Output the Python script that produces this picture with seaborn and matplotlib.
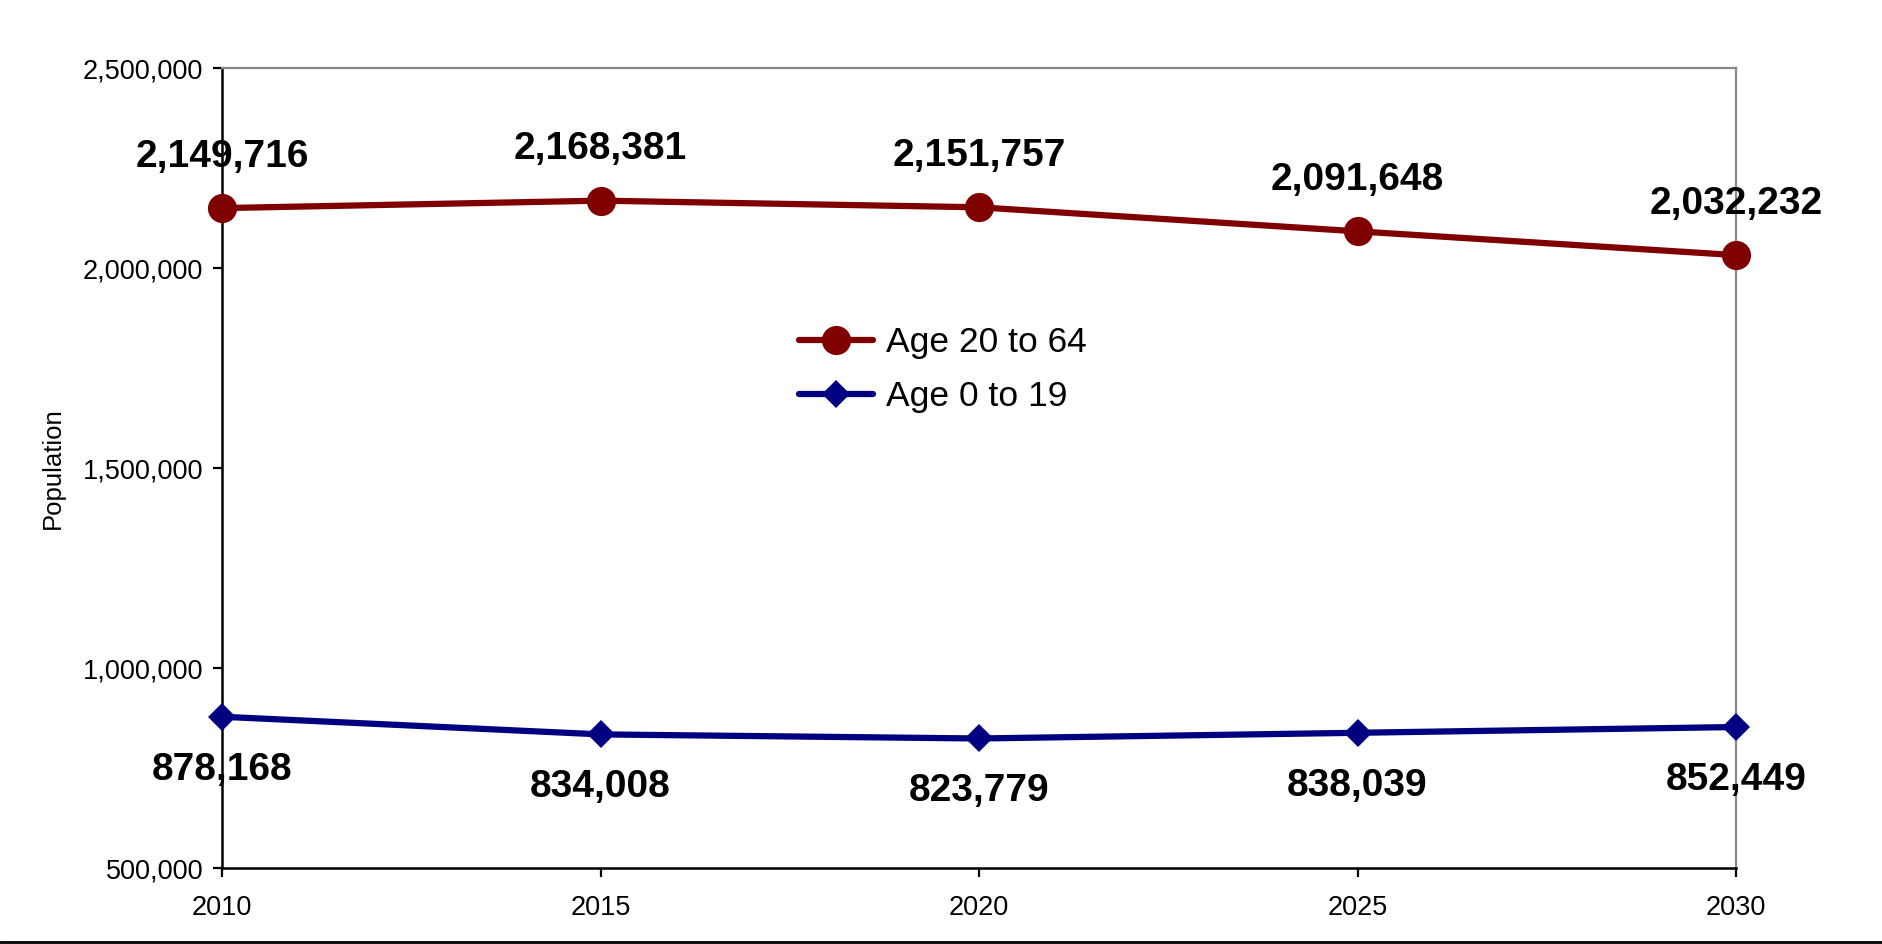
import matplotlib
matplotlib.use("Agg")
import matplotlib.pyplot as plt
from matplotlib.lines import Line2D
from matplotlib.ticker import FuncFormatter
import seaborn as sns
import pandas as pd

years = [2010, 2015, 2020, 2025, 2030]
age_20_64 = [2149716, 2168381, 2151757, 2091648, 2032232]
age_0_19 = [878168, 834008, 823779, 838039, 852449]
series_names = ["Age 20 to 64", "Age 0 to 19"]
y_ticks = [500000, 1000000, 1500000, 2000000, 2500000]

sns.set_style("white")
plt.rcParams["font.family"] = ["Liberation Sans", "DejaVu Sans"]
plt.rcParams["text.color"] = "black"

fig = plt.figure(figsize=(18.83, 9.44), dpi=100)
ax = fig.add_axes([222 / 1883, 1 - 868 / 944, (1736 - 222) / 1883, (868 - 68) / 944])

df_red = pd.DataFrame({"year": years, "pop": age_20_64})
df_blue = pd.DataFrame({"year": years, "pop": age_0_19})

sns.lineplot(data=df_red, x="year", y="pop", ax=ax, color="#800000", lw=4.5,
             marker="o", markersize=21, markeredgewidth=0, label=series_names[0],
             clip_on=False, zorder=5)
sns.lineplot(data=df_blue, x="year", y="pop", ax=ax, color="#000080", lw=4.5,
             marker="D", markersize=14.5, markeredgewidth=0, label=series_names[1],
             clip_on=False, zorder=5)

for x, v in zip(years, age_20_64):
    ax.annotate(f"{v:,}", (x, v), xytext=(0, 37), textcoords="offset points",
                ha="center", va="center", fontsize=28, fontweight="bold", color="black",
                zorder=6)
for x, v in zip(years, age_0_19):
    ax.annotate(f"{v:,}", (x, v), xytext=(0, -38), textcoords="offset points",
                ha="center", va="center", fontsize=28, fontweight="bold", color="black",
                zorder=6)

ax.set_xlim(2010, 2030)
ax.set_ylim(500000, 2500000)
ax.set_xticks(years)
ax.set_yticks(y_ticks)
ax.yaxis.set_major_formatter(FuncFormatter(lambda v, p: f"{int(v):,}"))
ax.tick_params(axis="both", which="major", labelsize=19.5, length=6.5, width=1.6,
               color="black", labelcolor="black", direction="out")
ax.tick_params(axis="y", pad=7, left=True)
ax.tick_params(axis="x", pad=13, bottom=True)
ax.set_xlabel("")
ax.set_ylabel("Population", fontsize=18.5, labelpad=13, color="black")

for s in ["left", "bottom"]:
    ax.spines[s].set_color("black")
    ax.spines[s].set_linewidth(1.8)
for s in ["top", "right"]:
    ax.spines[s].set_color("#888888")
    ax.spines[s].set_linewidth(1.6)
    ax.spines[s].set_visible(True)

leg = ax.legend(loc="center left", bbox_to_anchor=(0.381, 0.623), frameon=False,
                fontsize=25.5, handlelength=2.1, handletextpad=0.35, labelspacing=0.6,
                borderaxespad=0, borderpad=0)
for t in leg.get_texts():
    t.set_color("black")

fig.add_artist(Line2D([0, 1], [1 - 942 / 944, 1 - 942 / 944], color="black", lw=2,
                      transform=fig.transFigure))

fig.savefig("out.png", dpi=100)
